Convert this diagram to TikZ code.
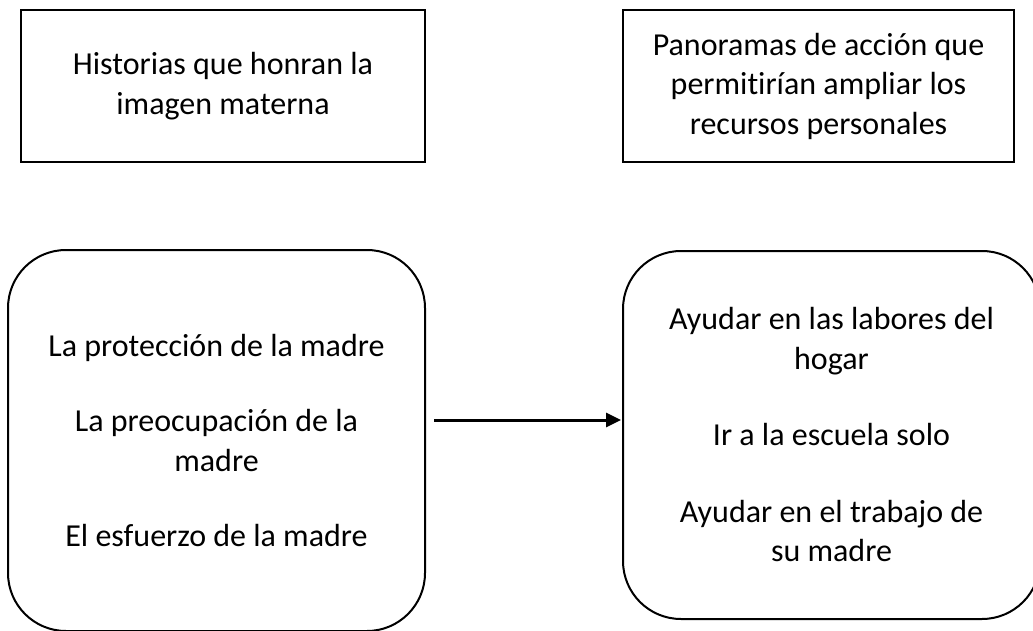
\documentclass[tikz,border=0pt]{standalone}
\usepackage{fontspec}
\setmainfont{Carlito}[Ligatures=NoCommon]
\usetikzlibrary{arrows.meta}
\begin{document}
\begin{tikzpicture}[x=1pt,y=-1pt,
  txt/.style={font=\fontsize{32pt}{39.5pt}\selectfont, align=center, text=black},
  sqbox/.style={draw=black, line width=2pt, inner sep=0pt, txt},
  rdbox/.style={draw=black, line width=2pt, inner sep=0pt, rounded corners=58pt, txt},
  arr/.style={draw=black, line width=3pt, -{Triangle[length=15pt,width=14pt]}}]
\useasboundingbox (0,0) rectangle (1033,631);
\clip (0,0) rectangle (1033,631);
\node[sqbox, minimum width=404pt, minimum height=152pt] (tl) at (223,86)
  {Historias que honran la\\imagen materna};
\node[sqbox, minimum width=391pt, minimum height=152pt] (tr) at (818.5,86)
  {Panoramas de acción que\\permitirían ampliar los\\recursos personales};
\node[rdbox, minimum width=417pt, minimum height=381pt] (bl) at (216.5,440.5)
  {La protección de la madre\\[36pt]La preocupación de la\\madre\\[36pt]El esfuerzo de la madre};
\node[rdbox, minimum width=417pt, minimum height=368pt] (br) at (831.5,435)
  {Ayudar en las labores del\\hogar\\[37pt]Ir a la escuela solo\\[37pt]Ayudar en el trabajo de\\su madre};
\draw[arr] ([xshift=8pt,yshift=20.5pt]bl.east) -- ([yshift=15pt,xshift=-1pt]br.west);
\end{tikzpicture}
\end{document}
